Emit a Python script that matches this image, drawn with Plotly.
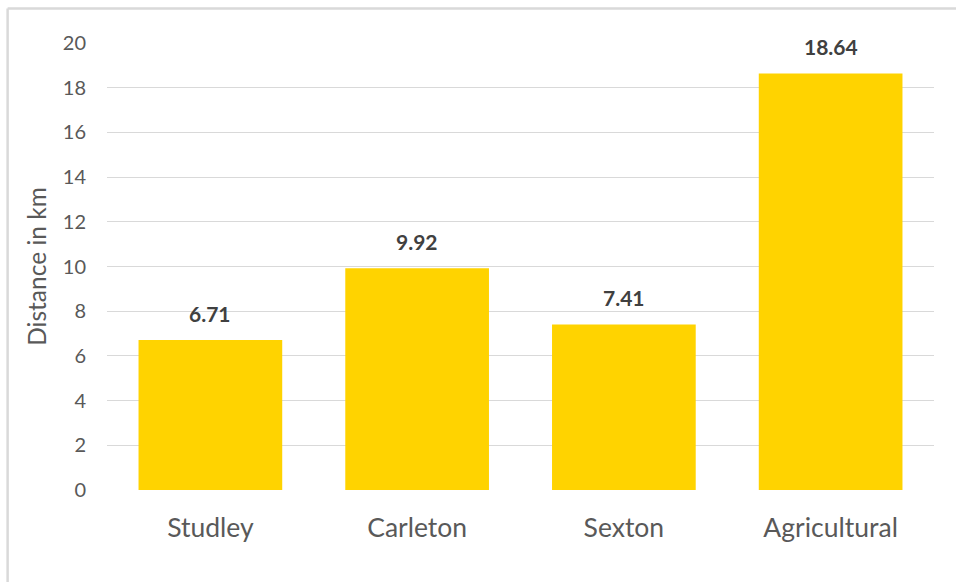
import plotly.graph_objects as go

categories = ["Studley", "Carleton", "Sexton", "Agricultural"]
distances = [6.71, 9.92, 7.41, 18.64]
y_ticks = [0, 2, 4, 6, 8, 10, 12, 14, 16, 18, 20]

FONT = "Lato, Carlito, Calibri, 'Open Sans', sans-serif"

fig = go.Figure()
fig.add_trace(go.Bar(
    x=categories, y=distances,
    marker=dict(color="#FFD300", line=dict(width=0)),
    hoverinfo="x+y",
))

for c, v in zip(categories, distances):
    fig.add_annotation(x=c, y=v, text=f"<b>{v:.2f}</b>", showarrow=False,
                       yanchor="bottom", yshift=12,
                       font=dict(family=FONT, size=21, color="#404040"))

W, H = 956, 582
L, R, T, B = 106.5, 21.5, 43, 92
pw, ph = W - L - R, H - T - B

def px2paper_x(px):
    return (px - L) / pw

def px2paper_y(py):
    return (H - B - py) / ph

border = dict(color="#D9D9D9", width=2.5)
fig.add_shape(type="line", xref="paper", yref="paper",
              x0=px2paper_x(7), x1=px2paper_x(7), y0=px2paper_y(8.5), y1=px2paper_y(620),
              line=border)
fig.add_shape(type="line", xref="paper", yref="paper",
              x0=px2paper_x(7), x1=px2paper_x(1000), y0=px2paper_y(8.5), y1=px2paper_y(8.5),
              line=border)

fig.update_layout(
    width=W, height=H,
    margin=dict(l=L, r=R, t=T, b=B, pad=0),
    paper_bgcolor="white", plot_bgcolor="white",
    bargap=0.305,
    showlegend=False,
    font=dict(family=FONT, color="#595959"),
)
fig.update_xaxes(
    tickfont=dict(size=26.5, color="#595959"),
    showgrid=False, showline=False, zeroline=False,
    ticks="", ticklabelstandoff=19,
)
fig.update_yaxes(
    range=[0, 20], tickvals=y_ticks,
    tickfont=dict(size=20, color="#595959"),
    showgrid=True, gridcolor="#D9D9D9", gridwidth=1.3,
    zeroline=False, showline=False,
    ticks="", ticklabelstandoff=20,
    title=dict(text="Distance in km", font=dict(size=24.5, color="#595959"), standoff=9),
)

fig.write_html("out.html")
